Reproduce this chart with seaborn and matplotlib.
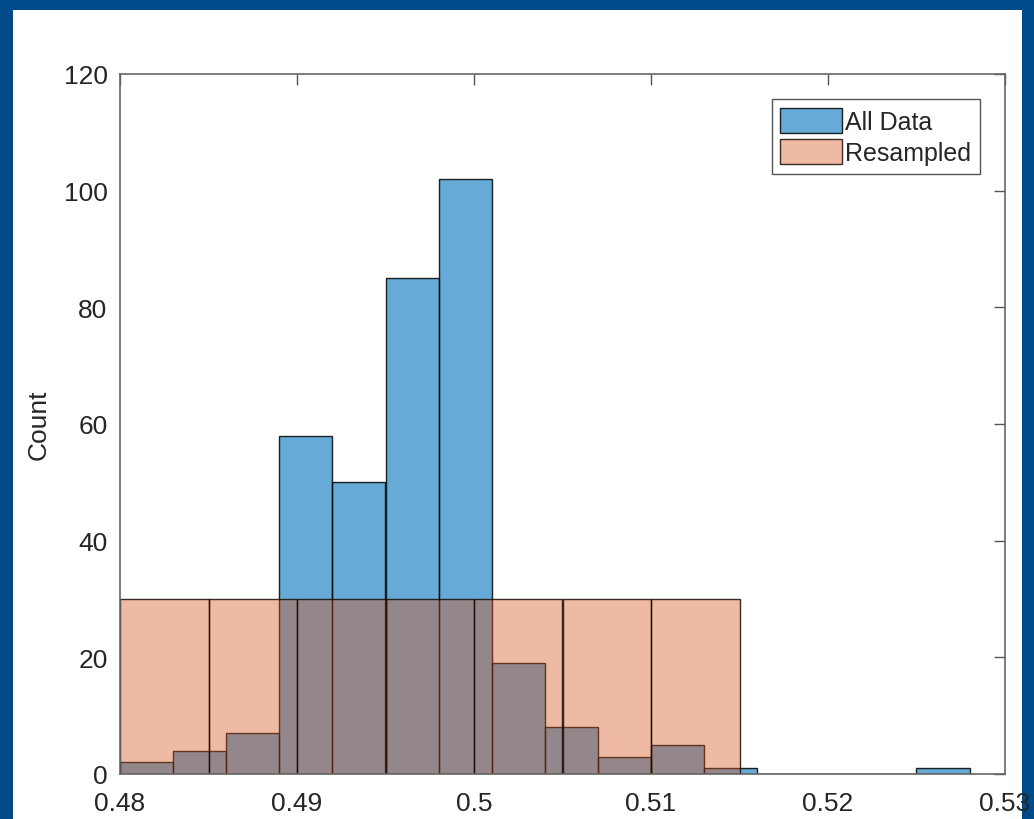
import numpy as np
import matplotlib
matplotlib.use('Agg')
import matplotlib.pyplot as plt
import seaborn as sns
from matplotlib.patches import Rectangle

# Histogram bins
all_edges = [0.480, 0.483, 0.486, 0.489, 0.492, 0.495, 0.498, 0.501, 0.504,
             0.507, 0.510, 0.513, 0.516, 0.519, 0.522, 0.525, 0.528]
all_counts = [2, 4, 7, 58, 50, 85, 102, 19, 8, 3, 5, 1, 0, 0, 0, 1]

res_edges = [0.480, 0.485, 0.490, 0.495, 0.500, 0.505, 0.510, 0.515]
res_counts = [30, 30, 30, 30, 30, 30, 30]

x_ticks = [0.48, 0.49, 0.50, 0.51, 0.52, 0.53]
x_ticklabels = ['0.48', '0.49', '0.5', '0.51', '0.52', '0.53']
y_ticks = [0, 20, 40, 60, 80, 100, 120]

BLUE = (0/255, 114/255, 189/255)
ORANGE = (217/255, 83/255, 25/255)

sns.set_style('white')
plt.rcParams['font.family'] = ['Liberation Sans', 'DejaVu Sans']

fig = plt.figure(figsize=(10.34, 8.2), dpi=100)
fig.patch.set_facecolor('#004a8a')
# white "paper" inside the blue frame
fig.patches.append(Rectangle((13 / 1034, 0), 1009 / 1034, 1 - 11 / 820,
                             transform=fig.transFigure, facecolor='white',
                             edgecolor='none', zorder=0))

ax = fig.add_axes([120 / 1034, 45 / 820, 885 / 1034, 700 / 820])
ax.set_zorder(2)
ax.set_facecolor('white')

def centers(edges):
    e = np.asarray(edges)
    return (e[:-1] + e[1:]) / 2

sns.histplot(x=centers(all_edges), weights=all_counts, bins=all_edges, ax=ax)
blue_patches = list(ax.patches)
sns.histplot(x=centers(res_edges), weights=res_counts, bins=res_edges, ax=ax)
orange_patches = [p for p in ax.patches if p not in blue_patches]

for p in blue_patches:
    p.set_alpha(None)
    p.set_facecolor(BLUE + (0.6,))
    p.set_edgecolor((0, 0, 0, 0.85))
    p.set_linewidth(1.0)
for p in orange_patches:
    p.set_alpha(None)
    p.set_facecolor(ORANGE + (0.4,))
    p.set_edgecolor((0.1, 0.05, 0.02, 0.85))
    p.set_linewidth(1.0)

ax.set_xlim(0.48, 0.53)
ax.set_ylim(0, 120)
ax.set_xticks(x_ticks)
ax.set_xticklabels(x_ticklabels)
ax.set_yticks(y_ticks)
ax.set_xlabel('')
ax.set_ylabel('Count', fontsize=19, color='#262626', labelpad=9)

ax.tick_params(direction='in', top=True, right=True, length=8, width=1,
               color='#555555', labelsize=19, labelcolor='#262626')
ax.tick_params(axis='x', pad=12)
ax.tick_params(axis='y', pad=9)
for s in ax.spines.values():
    s.set_visible(True)
    s.set_color('#666666')
    s.set_linewidth(1.2)

leg = ax.legend([blue_patches[0], orange_patches[0]], ['All Data', 'Resampled'],
                loc='upper right', fontsize=18, fancybox=False, framealpha=1,
                edgecolor='#555555', handlelength=2.45, handleheight=1.15,
                borderaxespad=1.0, handletextpad=0.15, labelspacing=0.22,
                borderpad=0.35, labelcolor='#262626')
leg.get_frame().set_linewidth(1.0)

fig.savefig('out.png', dpi=100, facecolor=fig.get_facecolor())
